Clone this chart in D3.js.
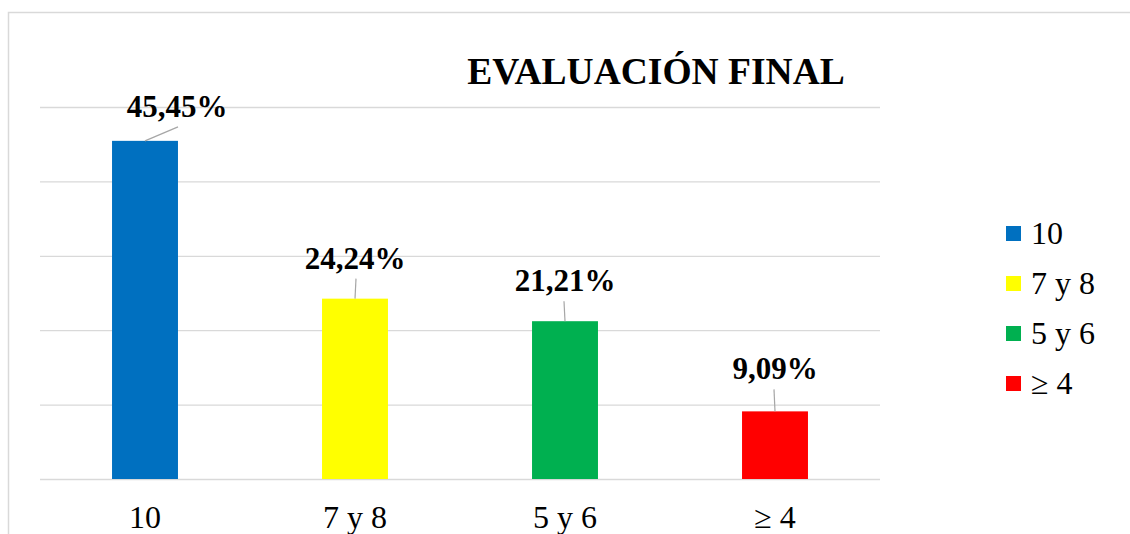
<!DOCTYPE html>
<html>
<head>
<meta charset="utf-8">
<script src="https://cdn.jsdelivr.net/npm/d3@7"></script>
<style>
  body { margin: 0; background: #fff; }
  svg { display: block; font-family: "Liberation Serif", "Times New Roman", serif; }
  .gridline line { stroke: #d9d9d9; stroke-width: 1.3; }
  .gridline .domain { display: none; }
</style>
</head>
<body>
<div id="chartContainer"></div>
<script>
// values
var categories = ["10", "7 y 8", "5 y 6", "\u2265 4"];
var percents = [45.45, 24.24, 21.21, 9.09];
var labels = ["45,45%", "24,24%", "21,21%", "9,09%"];
var colors = ["#0070C0", "#FFFF00", "#00B050", "#FF0000"];
var yTicks = [0, 10, 20, 30, 40, 50];

var width = 1130;
var height = 534;
var marginLeft = 40, plotRight = 880, plotTop = 107, plotBottom = 479;

var svg = d3.select('#chartContainer')
    .append('svg')
    .attr("width", width)
    .attr("height", height);

// chart area border (runs off the right and bottom edge)
svg.append("rect")
    .attr("x", 8.5).attr("y", 12.5)
    .attr("width", 1140).attr("height", 540)
    .attr("fill", "none")
    .attr("stroke", "#d9d9d9")
    .attr("stroke-width", 1.5);

var x = d3.scaleBand()
    .domain(categories)
    .range([marginLeft, plotRight])
    .paddingInner(0.686)
    .paddingOuter(0.343);

var y = d3.scaleLinear()
    .domain([0, 50])
    .range([plotBottom, plotTop]);

/***** Grid lines *****/
var yGridLines = d3.axisLeft(y)
    .tickValues(yTicks)
    .tickSize(-(plotRight - marginLeft))
    .tickFormat("");
svg.append("g")
    .attr("class", "gridline")
    .attr("transform", "translate(" + marginLeft + ",0)")
    .call(yGridLines);

/***** Bars *****/
svg.append("g").selectAll("rect")
    .data(percents)
    .join("rect")
    .attr("x", (d, i) => x(categories[i]))
    .attr("y", d => y(d))
    .attr("width", x.bandwidth())
    .attr("height", d => y(0) - y(d))
    .attr("fill", (d, i) => colors[i]);

/***** X axis labels *****/
var xAxis = d3.axisBottom(x).tickSize(0).tickPadding(0);
var xAxisGroup = svg.append("g")
    .attr("transform", "translate(0," + plotBottom + ")")
    .call(xAxis);
xAxisGroup.select(".domain").remove();
xAxisGroup.selectAll("text")
    .attr("y", 49)
    .attr("dy", null)
    .attr("fill", "#000")
    .style("font-family", "'Liberation Serif', 'Times New Roman', serif")
    .style("font-size", "32px");

/***** Data labels with leader lines *****/
// label placement relative to bar top (first one was dragged aside)
var labelShift = [[32, -24, 33, -14], [0, -30, 1, -20], [0, -30, -1, -20], [0, -32, -1, -22]];

var lbl = svg.append("g");
percents.forEach((d, i) => {
  var cx = x(categories[i]) + x.bandwidth() / 2;
  var top = y(d);
  var s = labelShift[i];
  lbl.append("line")
      .attr("x1", cx).attr("y1", top)
      .attr("x2", cx + s[2]).attr("y2", top + s[3])
      .attr("stroke", "#a6a6a6")
      .attr("stroke-width", 1.2);
  lbl.append("text")
      .attr("x", cx + s[0])
      .attr("y", top + s[1])
      .attr("text-anchor", "middle")
      .attr("font-weight", "bold")
      .attr("font-size", 31)
      .text(labels[i]);
});

/***** Title *****/
svg.append("text")
    .attr("x", 656)
    .attr("y", 84)
    .attr("text-anchor", "middle")
    .attr("font-weight", "bold")
    .attr("font-size", 37.5)
    .text("EVALUACIÓN FINAL");

/***** Legend *****/
var legend = svg.append("g").attr("transform", "translate(1006,234)");
var item = legend.selectAll("g")
    .data(categories)
    .join("g")
    .attr("transform", (d, i) => "translate(0," + (i * 50) + ")");
item.append("rect")
    .attr("x", 0).attr("y", -8)
    .attr("width", 15).attr("height", 15)
    .attr("fill", (d, i) => colors[i]);
item.append("text")
    .attr("x", 25)
    .attr("y", 10)
    .attr("font-size", 32)
    .text(d => d);
</script>
</body>
</html>
